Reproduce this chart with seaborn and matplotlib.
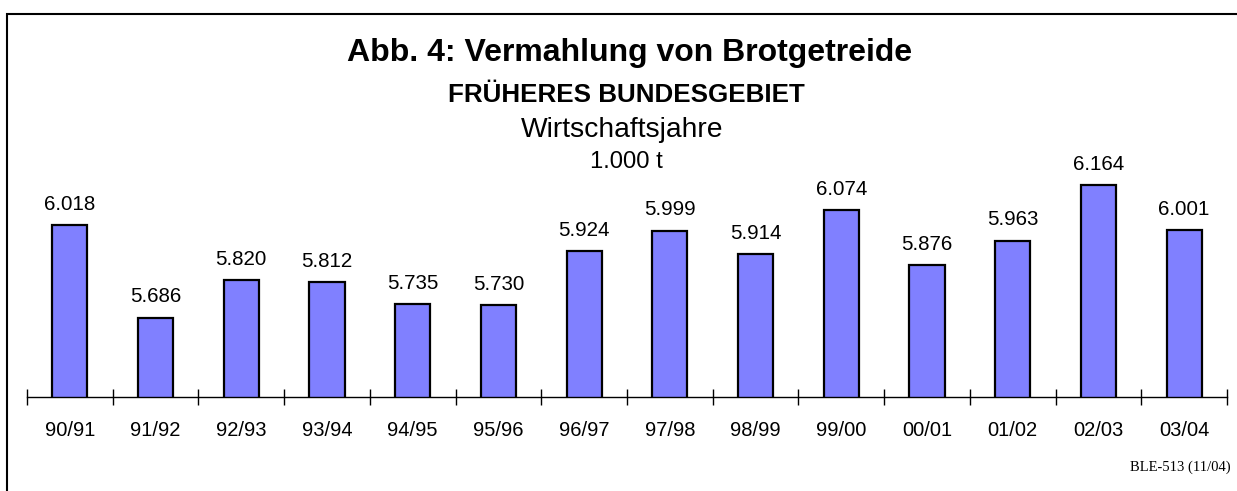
import matplotlib
matplotlib.use("Agg")
import matplotlib.pyplot as plt
import seaborn as sns
import pandas as pd
from matplotlib.patches import Rectangle

# Data: Vermahlung von Brotgetreide, in 1.000 t
jahre = ["90/91", "91/92", "92/93", "93/94", "94/95", "95/96", "96/97",
         "97/98", "98/99", "99/00", "00/01", "01/02", "02/03", "03/04"]
menge = [6018, 5686, 5820, 5812, 5735, 5730, 5924,
         5999, 5914, 6074, 5876, 5963, 6164, 6001]

df = pd.DataFrame({"Jahr": jahre, "Menge": menge})

sns.set_style("white")
plt.rcParams["font.family"] = ["Liberation Sans", "DejaVu Sans"]
plt.rcParams["text.color"] = "black"
plt.rcParams["xtick.color"] = "black"
plt.rcParams["xtick.labelcolor"] = "black"

fig = plt.figure(figsize=(12.37, 4.91), dpi=100)
ax = fig.add_axes([27 / 1237, 94 / 491, 1200 / 1237, 383 / 491])

sns.barplot(data=df, x="Jahr", y="Menge", color="#8080FF", saturation=1,
            edgecolor="black", linewidth=1.6, width=0.41, ax=ax)

# value labels in German number format
labels = [f"{v:,}".replace(",", ".") for v in menge]
ax.bar_label(ax.containers[0], labels=labels, padding=8, fontsize=14.8,
             color="black")

ax.set_ylim(5400, 6778)
ax.set_xlim(-0.5, len(jahre) - 0.5)

# separator ticks between categories, labels at bar centres
ax.set_xticks([i - 0.5 for i in range(len(jahre) + 1)])
ax.set_xticklabels([])
ax.set_xticks(range(len(jahre)), minor=True)
ax.set_xticklabels(jahre, minor=True, fontsize=14.5)
ax.tick_params(axis="x", which="major", bottom=True, direction="inout",
               length=12, width=1, color="black")
ax.tick_params(axis="x", which="minor", bottom=True, length=0, pad=17)
ax.set_yticks([])
ax.set_xlabel("")
ax.set_ylabel("")
for s in ["left", "top", "right"]:
    ax.spines[s].set_visible(False)
ax.spines["bottom"].set_color("black")
ax.spines["bottom"].set_linewidth(1)
ax.patch.set_alpha(0)

# titles
cx = 630 / 1237
fig.text(cx, 1 - 53 / 491, "Abb. 4: Vermahlung von Brotgetreide", ha="center",
         va="center", fontsize=23, fontweight="bold")
fig.text(626 / 1237, 1 - 95 / 491, "FRÜHERES BUNDESGEBIET", ha="center",
         va="center", fontsize=18.7, fontweight="bold")
fig.text(622 / 1237, 1 - 130 / 491, "Wirtschaftsjahre", ha="center",
         va="center", fontsize=20.3)
fig.text(626 / 1237, 1 - 162 / 491, "1.000 t", ha="center",
         va="center", fontsize=17.2)
fig.text(1231 / 1237, 1 - 467 / 491, "BLE-513 (11/04)", ha="right",
         va="center", fontsize=10.5, family=["Liberation Serif", "DejaVu Serif"])

# frame
fig.patches.append(Rectangle((7 / 1237, -0.05), 1.2, 1 - 14 / 491 + 0.05,
                             transform=fig.transFigure, fill=False,
                             edgecolor="black", linewidth=1.5))

fig.savefig("out.png", dpi=100)
